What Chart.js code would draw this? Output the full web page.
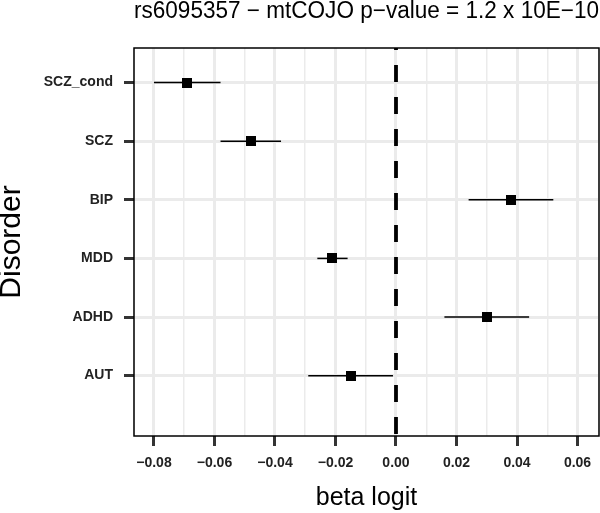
<!DOCTYPE html>
<html>
<head>
<meta charset="utf-8">
<script src="https://cdn.jsdelivr.net/npm/chart.js@4.4.1/dist/chart.umd.min.js"></script>
<style>
  body { margin: 0; background: #fff; }
  canvas { display: block; }
</style>
</head>
<body>
<canvas id="forestChart" width="600" height="513"></canvas>
<script>
const categories = ["SCZ_cond", "SCZ", "BIP", "MDD", "ADHD", "AUT"];
const beta = [-0.069, -0.048, 0.038, -0.021, 0.030, -0.015];
const ciLow = [-0.080, -0.058, 0.024, -0.026, 0.016, -0.029];
const ciHigh = [-0.058, -0.038, 0.052, -0.016, 0.044, -0.001];
const xTicks = [-0.08, -0.07, -0.06, -0.05, -0.04, -0.03, -0.02, -0.01, 0, 0.01, 0.02, 0.03, 0.04, 0.05, 0.06];
const xMajor = [-0.08, -0.06, -0.04, -0.02, 0, 0.02, 0.04, 0.06];
const xMin = -0.0866;
const xMax = 0.0671;
const yMin = 0.41;
const yMax = 7.03;

const isMajor = (v) => xMajor.some((m) => Math.abs(m - v) < 1e-9);
const font = "'Liberation Sans', Arial, sans-serif";

// square marker as a small canvas, so the big points don't pad the chart area
const square = document.createElement("canvas");
square.width = 10;
square.height = 10;
const sctx = square.getContext("2d");
sctx.fillStyle = "#000";
sctx.fillRect(0, 0, 10, 10);

// error bars, one short line per disorder
const ciSets = categories.map((c, i) => ({
  type: "line",
  data: [
    { x: ciLow[i], y: i + 1 },
    { x: ciHigh[i], y: i + 1 },
  ],
  borderColor: "#000",
  borderWidth: 1.5,
  pointRadius: 0,
}));

const panelBorder = {
  id: "panelBorder",
  afterDatasetsDraw(chart) {
    const { ctx, chartArea: a } = chart;
    ctx.save();
    ctx.strokeStyle = "#000";
    ctx.lineWidth = 1.5;
    ctx.strokeRect(a.left, a.top, a.right - a.left, a.bottom - a.top);
    ctx.restore();
  },
};

const ctx = document.getElementById("forestChart");

new Chart(ctx, {
  type: "scatter",
  data: {
    datasets: [
      {
        type: "line",
        data: [
          { x: 0, y: yMin },
          { x: 0, y: yMax },
        ],
        borderColor: "#000",
        borderWidth: 3.8,
        borderDash: [17, 15],
        borderDashOffset: 15,
        pointRadius: 0,
      },
      ...ciSets,
      {
        data: categories.map((c, i) => ({ x: beta[i], y: i + 1 })),
        pointStyle: square,
        pointRadius: 0.5,
        borderWidth: 0,
      },
    ],
  },
  options: {
    responsive: false,
    animation: false,
    layout: { autoPadding: false, padding: { top: 0, right: 1, bottom: 0, left: 0 } },
    plugins: {
      legend: { display: false },
      tooltip: { enabled: false },
      title: {
        display: true,
        text: "rs6095357 \u2212 mtCOJO p\u2212value = 1.2 x 10E\u221210",
        fullSize: false,
        color: "#000",
        font: { family: font, size: 23, weight: "normal", lineHeight: 1 },
        padding: { top: 0, bottom: 25 },
      },
    },
    scales: {
      x: {
        type: "linear",
        min: xMin,
        max: xMax,
        afterBuildTicks: (scale) => {
          // blank end ticks keep the edge labels from padding the panel
          scale.ticks = [xMin, ...xTicks, xMax].map((v) => ({ value: v }));
        },
        afterFit: (scale) => {
          scale.height = 77;
        },
        border: { display: false },
        grid: {
          color: "#ebebeb",
          lineWidth: (c) => (c.tick && isMajor(c.tick.value) ? 3 : 1.5),
          tickColor: (c) => (c.tick && isMajor(c.tick.value) ? "#333" : "rgba(0,0,0,0)"),
          tickWidth: 3,
          tickLength: 10,
        },
        ticks: {
          autoSkip: false,
          maxRotation: 0,
          // padding 0 so the panel isn't inset on the right; tall line height drops the labels instead
          padding: 0,
          color: "#222",
          font: { family: font, size: 14, weight: "bold", lineHeight: 2.5 },
          callback: (v) => (isMajor(v) ? v.toFixed(2).replace("-", "\u2212") : ""),
        },
        title: {
          display: true,
          text: "beta logit",
          color: "#000",
          font: { family: font, size: 25, weight: "normal", lineHeight: 1.2 },
          padding: { top: 0, bottom: 0 },
        },
      },
      y: {
        type: "linear",
        reverse: true,
        min: yMin,
        max: yMax,
        afterBuildTicks: (scale) => {
          scale.ticks = categories.map((c, i) => ({ value: i + 1 }));
        },
        afterFit: (scale) => {
          scale.width = 134;
        },
        border: { display: false },
        grid: {
          color: "#ebebeb",
          lineWidth: 3,
          tickColor: "#333",
          tickWidth: 3,
          tickLength: 10,
        },
        ticks: {
          padding: 11,
          color: "#222",
          font: { family: font, size: 14, weight: "bold" },
          callback: (v) => categories[Math.round(v) - 1] || "",
        },
        title: {
          display: true,
          text: "Disorder",
          color: "#000",
          font: { family: font, size: 30, weight: "normal", lineHeight: 0.75 },
          padding: { top: 0, bottom: 0 },
        },
      },
    },
  },
  plugins: [panelBorder],
});
</script>
</body>
</html>
